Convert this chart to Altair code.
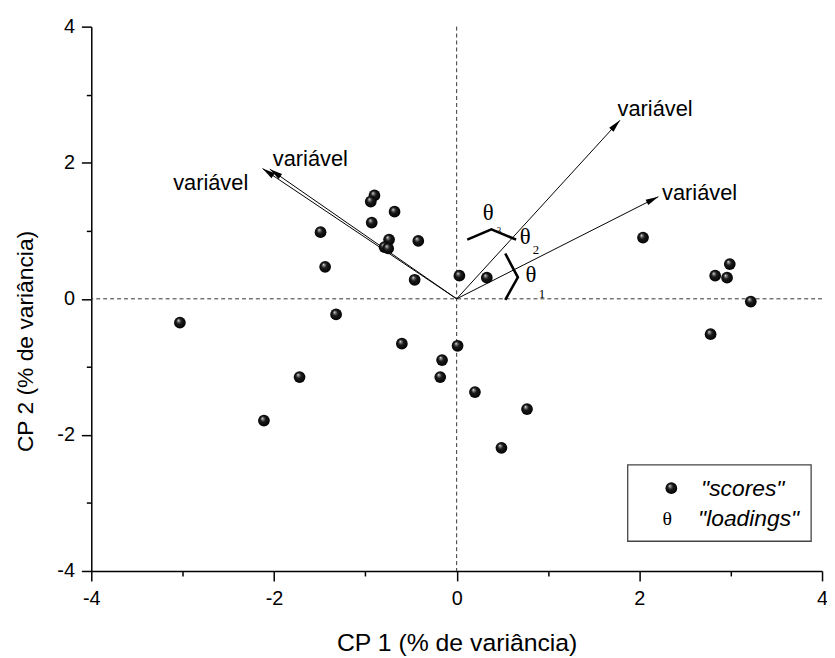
import math
import altair as alt
import pandas as pd

# ---------------- data ----------------
score_x = [-3.03, -2.11, -1.72, -1.49, -1.44, -1.32, -0.90, -0.94, -0.68, -0.93,
           -0.74, -0.79, -0.75, -0.42, -0.46, 0.03, 0.33, 2.04, 2.99, 2.83,
           2.96, 3.22, 2.78, -0.60, 0.01, -0.16, -0.18, 0.20, 0.77, 0.49]
score_y = [-0.35, -1.79, -1.15, 0.98, 0.47, -0.23, 1.52, 1.43, 1.28, 1.12,
           0.87, 0.76, 0.74, 0.85, 0.28, 0.34, 0.31, 0.90, 0.51, 0.34,
           0.31, -0.04, -0.52, -0.66, -0.69, -0.90, -1.15, -1.37, -1.62, -2.19]

load_x = [-2.125, -2.045, 1.788, 2.208]
load_y = [1.914, 1.905, 2.624, 1.501]

var_label = ["variável", "variável", "variável", "variável"]
var_lx = [-2.693, -1.602, 2.172, 2.660]
var_ly = [1.706, 2.048, 2.792, 1.560]

brk_grp = [3, 3, 3, 1, 1, 1]
brk_x = [0.116, 0.380, 0.651, 0.532, 0.670, 0.532]
brk_y = [0.870, 1.020, 0.870, 0.666, 0.316, -0.015]

theta_x = [0.344, 0.749, 0.814]
theta_y = [1.258, 0.908, 0.350]
sub_text = ["3", "2", "1"]
sub_x = [0.464, 0.869, 0.934]
sub_y = [1.016, 0.714, 0.073]

tick_vals = [-4, -3, -2, -1, 0, 1, 2, 3, 4]
x_title = "CP 1 (% de variância)"
y_title = "CP 2 (% de variância)"
legend_labels = ['"scores"', '"loadings"']

# ---------------- layout ----------------
W, H = 737, 549
DOM = [-4, 4]
FONT = "Arial, Liberation Sans, sans-serif"
SERIF = "Times New Roman, Liberation Serif, serif"

px_x = W / (DOM[1] - DOM[0])
px_y = H / (DOM[1] - DOM[0])


def sc():
    return alt.Scale(domain=DOM, nice=False, zero=False)


tick_size = {"condition": {"test": "datum.value % 2 !== 0", "value": 5}, "value": 10}
label_expr = "datum.value % 2 === 0 ? '' + datum.value : ''"

x_axis = alt.Axis(values=tick_vals, labelExpr=label_expr, tickSize=tick_size,
                  grid=False, labelFlush=False, labelOverlap=False,
                  domainColor="black", domainWidth=1.5, tickColor="black", tickWidth=1.5,
                  labelColor="black", labelFont=FONT, labelFontSize=20, labelPadding=8,
                  title=x_title, titleFont=FONT, titleFontSize=25, titleFontWeight="normal",
                  titleColor="black", titleX=W / 2, titleY=72, titleBaseline="middle",
                  titleAnchor="middle")
y_axis = alt.Axis(values=tick_vals, labelExpr=label_expr, tickSize=tick_size,
                  grid=False, labelFlush=False, labelOverlap=False,
                  domainColor="black", domainWidth=1.5, tickColor="black", tickWidth=1.5,
                  labelColor="black", labelFont=FONT, labelFontSize=20, labelPadding=7,
                  title=y_title, titleFont=FONT, titleFontSize=23, titleFontWeight="normal",
                  titleColor="black", titleX=-66, titleY=317, titleBaseline="middle",
                  titleAngle=270, titleAnchor="middle")


def X(f):
    return alt.X(f, scale=sc(), axis=x_axis, title=x_title)


def Y(f):
    return alt.Y(f, scale=sc(), axis=y_axis, title=y_title)


scores = pd.DataFrame({"x": score_x, "y": score_y})
loads = pd.DataFrame({"x0": [0.0] * len(load_x), "y0": [0.0] * len(load_x),
                      "x": load_x, "y": load_y})
loads["ang"] = [(math.degrees(math.atan2(a * px_x, b * px_y)) + 360) % 360
                for a, b in zip(load_x, load_y)]
labels = pd.DataFrame({"x": var_lx, "y": var_ly, "t": var_label})
brk = pd.DataFrame({"x": brk_x, "y": brk_y, "g": brk_grp, "o": list(range(len(brk_x)))})
thetas = pd.DataFrame({"x": theta_x, "y": theta_y, "t": ["θ"] * len(theta_x)})
subs = pd.DataFrame({"x": sub_x, "y": sub_y, "t": sub_text})
one = pd.DataFrame({"a": [0]})

sphere = alt.RadialGradient(
    gradient="radial",
    stops=[alt.GradientStop(color="#ffffff", offset=0),
           alt.GradientStop(color="#8a8a8a", offset=0.14),
           alt.GradientStop(color="#1a1a1a", offset=0.42),
           alt.GradientStop(color="#000000", offset=1)],
    x1=0.36, y1=0.3, r1=0, x2=0.5, y2=0.5, r2=0.55)

# ---------------- layers ----------------
base_pts = alt.Chart(scores).mark_circle(size=140, fill=sphere, opacity=1).encode(
    x=X("x:Q"), y=Y("y:Q"))

vline = alt.Chart(one).mark_rule(color="#333333", strokeWidth=1, strokeDash=[4, 3]).encode(
    x=alt.datum(0, scale=sc(), axis=x_axis, title=x_title))
hline = alt.Chart(one).mark_rule(color="#333333", strokeWidth=1, strokeDash=[4, 3]).encode(
    y=alt.datum(0, scale=sc(), axis=y_axis, title=y_title))

arrows = alt.Chart(loads).mark_rule(color="black", strokeWidth=1).encode(
    x=X("x0:Q"), y=Y("y0:Q"), x2="x:Q", y2="y:Q")

heads = alt.Chart(loads).mark_point(shape="M0,0 L1,4.3 L-1,4.3 Z", filled=True,
                                    color="black", opacity=1, size=36).encode(
    x=X("x:Q"), y=Y("y:Q"), angle=alt.Angle("ang:Q", scale=None))

brackets = alt.Chart(brk).mark_line(color="black", strokeWidth=2.6, strokeJoin="miter").encode(
    x=X("x:Q"), y=Y("y:Q"), detail="g:N", order="o:Q")

var_txt = alt.Chart(labels).mark_text(font=FONT, fontSize=22, color="black",
                                      align="center", baseline="middle").encode(
    x=X("x:Q"), y=Y("y:Q"), text="t:N")

theta_txt = alt.Chart(thetas).mark_text(font=SERIF, fontSize=23, color="black",
                                        align="center", baseline="middle").encode(
    x=X("x:Q"), y=Y("y:Q"), text="t:N")

sub_small = alt.Chart(subs).transform_filter("datum.t === '3'").mark_text(
    font=SERIF, fontSize=9, color="black", align="center", baseline="middle").encode(
    x=X("x:Q"), y=Y("y:Q"), text="t:N")
sub_big = alt.Chart(subs).transform_filter("datum.t !== '3'").mark_text(
    font=SERIF, fontSize=13, color="black", align="center", baseline="middle").encode(
    x=X("x:Q"), y=Y("y:Q"), text="t:N")

# legend (pixel positions inside plot area)
leg_box = alt.Chart(one).mark_rect(fill="white", stroke="#444444", strokeWidth=1.3).encode(
    x=alt.value(541), x2=alt.value(726), y=alt.value(442), y2=alt.value(519))
leg_dot = alt.Chart(one).mark_circle(size=140, fill=sphere, opacity=1).encode(
    x=alt.value(585), y=alt.value(465.5))
leg_theta = alt.Chart(one).mark_text(text="θ", font=SERIF, fontSize=20, color="black",
                                     align="center", baseline="middle").encode(
    x=alt.value(581), y=alt.value(497))
leg_t1 = alt.Chart(one).mark_text(text=legend_labels[0], font=FONT, fontSize=23, fontStyle="italic",
                                  color="black", align="left", baseline="middle").encode(
    x=alt.value(615), y=alt.value(466))
leg_t2 = alt.Chart(one).mark_text(text=legend_labels[1], font=FONT, fontSize=23, fontStyle="italic",
                                  color="black", align="left", baseline="middle").encode(
    x=alt.value(612), y=alt.value(497))

chart = alt.layer(
    vline, hline, arrows, heads, brackets, base_pts, var_txt, theta_txt, sub_small, sub_big,
    leg_box, leg_dot, leg_theta, leg_t1, leg_t2
).properties(
    width=W, height=H,
    autosize=alt.AutoSizeParams(type="none"),
    padding={"left": 84, "top": 16, "right": 5, "bottom": 90},
    background="white",
).configure_view(stroke=None)

chart.save("out.html", embed_options={"renderer": "svg", "actions": False})
